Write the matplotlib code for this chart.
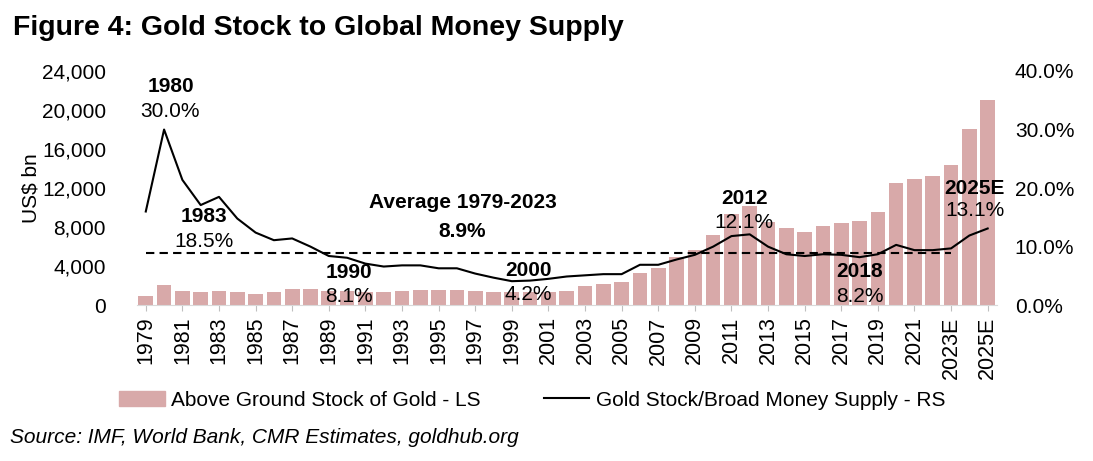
import matplotlib
matplotlib.use("Agg")
import matplotlib.pyplot as plt
from matplotlib.ticker import FuncFormatter

plt.rcParams["font.family"] = ["Liberation Sans", "DejaVu Sans"]

# Years on the category axis
years = [str(y) for y in range(1979, 2023)] + ["2023E", "2024E", "2025E"]

# Above ground stock of gold, US$ bn (left scale)
gold_stock = [950, 2080, 1450, 1300, 1450, 1300, 1100, 1300, 1650, 1650,
              1450, 1450, 1300, 1300, 1480, 1600, 1600, 1600, 1420, 1300,
              1300, 1300, 1300, 1480, 1950, 2120, 2325, 3250, 3830, 4890,
              5640, 7150, 9370, 10120, 8550, 7870, 7520, 8100, 8450, 8620,
              9540, 12520, 12930, 13270, 14360, 18090, 21070]

# Gold stock / broad money supply, % (right scale)
gold_to_money = [16.0, 30.0, 21.4, 17.1, 18.5, 14.8, 12.4, 11.1, 11.4, 10.0,
                 8.4, 8.1, 7.1, 6.6, 6.8, 6.8, 6.3, 6.3, 5.4, 4.7,
                 4.1, 4.2, 4.5, 4.9, 5.1, 5.3, 5.3, 6.9, 6.9, 7.8,
                 8.6, 10.0, 11.8, 12.1, 10.0, 8.7, 8.4, 8.7, 8.6, 8.2,
                 8.7, 10.3, 9.4, 9.4, 9.7, 11.9, 13.1]

avg_pct = 8.9
avg_years = years[:45]  # 1979 - 2023E

# callouts: (category, bold label, value label, y of bold label in %, y of value in %)
callouts = [
    (1.35, "1980", "30.0%", 37.3, 33.0),
    (3.2, "1983", "18.5%", 15.2, 10.9),
    (11.1, "1990", "8.1%", 5.6, 1.4),
    (20.9, "2000", "4.2%", 6.0, 1.9),
    (32.7, "2012", "12.1%", 18.3, 14.2),
    (39.0, "2018", "8.2%", 5.8, 1.5),
    (45.3, "2025E", "13.1%", 20.0, 16.1),
]

bar_color = "#D8A9A9"
fs = 15

fig = plt.figure(figsize=(10.93, 4.61), dpi=100)
ax = fig.add_axes([0.125, 0.338, 0.787, 0.508])
ax2 = ax.twinx()

x = list(range(len(years)))
ax.bar(x, gold_stock, width=0.8, color=bar_color, zorder=2)
ax.set_ylim(0, 24000)
ax.set_yticks(range(0, 24001, 4000))
ax.yaxis.set_major_formatter(FuncFormatter(lambda v, p: f"{int(v):,}"))
ax.set_xlim(-0.5, len(years) - 0.5)
ax.set_xticks(x[::2])
ax.set_xticklabels(years[::2], rotation=90, fontsize=15.5)
ax.tick_params(axis="x", length=4, color="#BFBFBF", pad=4)
ax.tick_params(axis="y", length=0, labelsize=fs, pad=22)
ax.set_ylabel("US$ bn", fontsize=fs, labelpad=1)

for s in ["top", "left", "right"]:
    ax.spines[s].set_visible(False)
    ax2.spines[s].set_visible(False)
ax.spines["bottom"].set_color("#D9D9D9")
ax2.spines["bottom"].set_visible(False)

ax2.plot(x, gold_to_money, color="black", lw=1.5, zorder=3)
ax2.plot(range(len(avg_years)), [avg_pct] * len(avg_years), color="black",
         lw=1.5, ls=(0, (4, 2.5)), zorder=3)
ax2.set_ylim(0, 40)
ax2.set_yticks(range(0, 41, 10))
ax2.yaxis.set_major_formatter(FuncFormatter(lambda v, p: f"{v:.1f}%"))
ax2.tick_params(axis="y", length=0, labelsize=fs, pad=13)

for cx, lab, val, y1, y2 in callouts:
    ax2.text(cx, y1, lab, ha="center", va="center", fontsize=fs, fontweight="bold")
    ax2.text(cx, y2, val, ha="center", va="center", fontsize=fs)

ax2.text(17.3, 17.6, "Average 1979-2023", ha="center", va="center",
         fontsize=fs, fontweight="bold")
ax2.text(17.3, 12.6, f"{avg_pct}%", ha="center", va="center",
         fontsize=fs, fontweight="bold")

# legend handles
hb = plt.Rectangle((0, 0), 1, 1, color=bar_color)
hl = plt.Line2D([0], [0], color="black", lw=1.5)
fig.legend([hb, hl], ["Above Ground Stock of Gold - LS",
                      "Gold Stock/Broad Money Supply - RS"],
           loc="center", bbox_to_anchor=(0.487, 0.132), ncol=2, frameon=False,
           fontsize=fs, handlelength=2.2, columnspacing=3.0, handletextpad=0.3)

fig.text(0.012, 1 - 28 / 461, "Figure 4: Gold Stock to Global Money Supply",
         fontsize=20.5, fontweight="bold", va="center")
fig.text(0.009, 1 - 437 / 461, "Source: IMF, World Bank, CMR Estimates, goldhub.org",
         fontsize=15, style="italic", va="center")

fig.savefig("out.png", dpi=100)
